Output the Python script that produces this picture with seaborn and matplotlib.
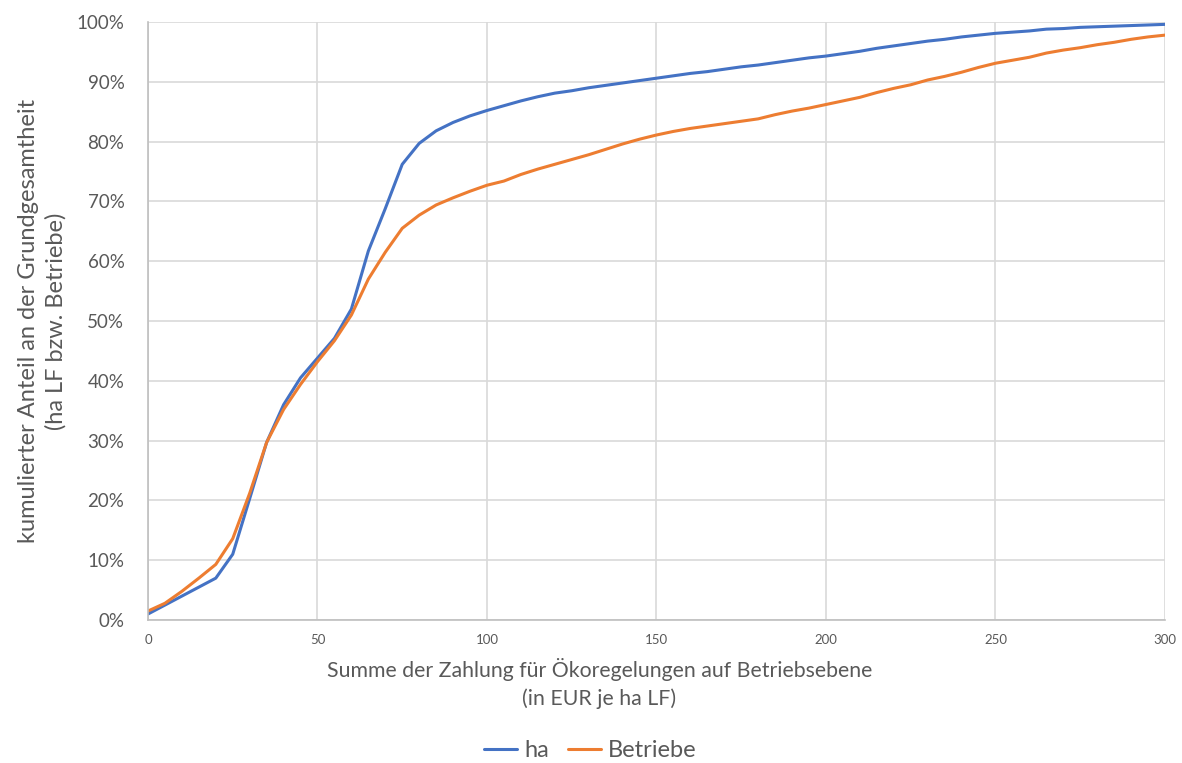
import numpy as np
import pandas as pd
import matplotlib
matplotlib.use("Agg")
import matplotlib.pyplot as plt
import seaborn as sns
from matplotlib.ticker import PercentFormatter

# Zahlung je ha LF (EUR), Schritte von 5
zahlung = list(range(0, 305, 5))

# kumulierter Anteil in %
ha = [1.0, 2.5, 4.0, 5.5, 7.0, 11.0, 20.3, 29.7, 36.0, 40.5, 43.8, 47.1, 52.0,
      61.7, 68.8, 76.2, 79.7, 81.8, 83.2, 84.3, 85.2, 86.0, 86.8, 87.5, 88.1,
      88.5, 89.0, 89.4, 89.8, 90.2, 90.6, 91.0, 91.4, 91.7, 92.1, 92.5, 92.8,
      93.2, 93.6, 94.0, 94.3, 94.7, 95.1, 95.6, 96.0, 96.4, 96.8, 97.1, 97.5,
      97.8, 98.1, 98.3, 98.5, 98.8, 98.9, 99.1, 99.2, 99.3, 99.4, 99.5, 99.6]
betriebe = [1.5, 2.8, 4.8, 7.0, 9.3, 13.6, 21.2, 29.7, 35.2, 39.4, 43.2, 46.7,
            51.0, 57.0, 61.5, 65.5, 67.7, 69.4, 70.6, 71.7, 72.7, 73.4, 74.5,
            75.4, 76.2, 77.0, 77.8, 78.7, 79.6, 80.4, 81.1, 81.7, 82.2, 82.6,
            83.0, 83.4, 83.8, 84.5, 85.1, 85.6, 86.2, 86.8, 87.4, 88.2, 88.9,
            89.5, 90.3, 90.9, 91.6, 92.4, 93.1, 93.6, 94.1, 94.8, 95.3, 95.7,
            96.2, 96.6, 97.1, 97.5, 97.8]

df = pd.DataFrame({"x": zahlung * 2,
                   "y": ha + betriebe,
                   "serie": ["ha"] * len(ha) + ["Betriebe"] * len(betriebe)})

sns.set_style("white")
plt.rcParams["font.family"] = ["Lato", "DejaVu Sans"]
grau = "#595959"

fig = plt.figure(figsize=(11.82, 7.63), dpi=100)
ax = fig.add_axes([0.1252, 0.1874, 0.8604, 0.7838])

sns.lineplot(data=df, x="x", y="y", hue="serie", ax=ax,
             palette={"ha": "#4472C4", "Betriebe": "#ED7D31"},
             linewidth=2.2, legend=True)

ax.set_xlim(0, 300)
ax.set_ylim(0, 100)
ax.set_xticks(range(0, 301, 50))
ax.set_yticks(range(0, 101, 10))
ax.yaxis.set_major_formatter(PercentFormatter(decimals=0))
ax.grid(True, color="#D9D9D9", linewidth=1.2)
ax.set_axisbelow(True)
for s in ["top", "right"]:
    ax.spines[s].set_visible(False)
for s in ["left", "bottom"]:
    ax.spines[s].set_color("#BFBFBF")
    ax.spines[s].set_linewidth(1.2)
ax.tick_params(axis="x", labelsize=9.5, colors=grau, length=0, pad=10)
ax.tick_params(axis="y", labelsize=13.5, colors=grau, length=0, pad=17)

ax.set_xlabel("Summe der Zahlung für Ökoregelungen auf Betriebsebene\n(in EUR je ha LF)",
              fontsize=15.3, color=grau, linespacing=1.45)
ax.xaxis.set_label_coords(0.444, -0.063, transform=ax.transAxes)
ax.xaxis.label.set_verticalalignment("top")
ax.set_ylabel("kumulierter Anteil an der Grundgesamtheit\n(ha LF bzw. Betriebe)",
              fontsize=17, color=grau, labelpad=7, linespacing=1.35)

ax.legend(loc="center", bbox_to_anchor=(0.435, -0.218), ncol=2, frameon=False,
          fontsize=17, handlelength=1.4, handletextpad=0.3, columnspacing=0.8,
          labelcolor=grau, title=None)

fig.savefig("out.png", dpi=100)
